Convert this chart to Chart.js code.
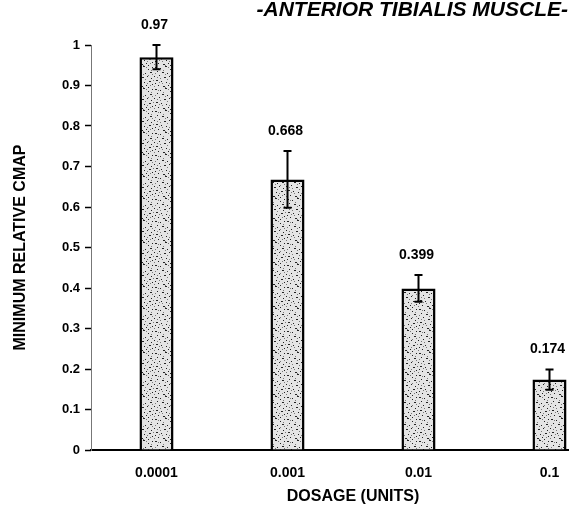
<!DOCTYPE html>
<html>
<head>
<meta charset="utf-8">
<script src="https://cdn.jsdelivr.net/npm/chart.js@4.4.1/dist/chart.umd.min.js"></script>
<style>
  html, body { margin: 0; padding: 0; background: #fff; overflow: hidden; }
  #wrap { width: 569px; height: 509px; overflow: hidden; }
  canvas { display: block; }
</style>
</head>
<body>
<div id="wrap"><canvas id="c" width="625" height="509"></canvas></div>
<script>
// Dose groups and mean minimum relative CMAP with standard error
const dosages = ['0.0001', '0.001', '0.01', '0.1'];
const cmapMeans = [0.97, 0.668, 0.399, 0.174];
const cmapErrors = [0.03, 0.07, 0.033, 0.025];
const yTicks = [0, 0.1, 0.2, 0.3, 0.4, 0.5, 0.6, 0.7, 0.8, 0.9, 1];

const chartTitle = '-ANTERIOR TIBIALIS MUSCLE-';
const yTitle = 'MINIMUM RELATIVE CMAP';
const xTitle = 'DOSAGE (UNITS)';

const FONT = '"Liberation Sans", Arial, Helvetica, sans-serif';

// Stippled fill for the bars: a fixed, irregular speckle tile
function stipple() {
  const t = document.createElement('canvas');
  t.width = 22; t.height = 22;
  const g = t.getContext('2d');
  g.fillStyle = '#e4e4e4';
  g.fillRect(0, 0, 22, 22);
  const dark = [[1,1,2],[6,2,1],[11,0,2],[16,3,1],[20,1,1],[3,5,1],[8,6,2],[13,7,1],[18,6,2],
                [0,10,1],[5,9,1],[10,11,2],[15,10,1],[19,12,1],[2,14,2],[7,15,1],[12,16,1],
                [17,15,2],[4,19,1],[9,20,2],[14,19,1],[20,18,1],[1,17,1],[16,21,1]];
  g.fillStyle = '#222';
  dark.forEach(([x, y, w]) => g.fillRect(x, y, w, 1));
  const mid = [[4,2],[9,4],[14,1],[19,4],[1,7],[11,8],[16,9],[6,12],[13,13],[21,14],
               [3,11],[8,17],[18,19],[11,21],[5,16],[15,17],[0,20],[20,8]];
  g.fillStyle = '#7a7a7a';
  mid.forEach(([x, y]) => g.fillRect(x, y, 1, 1));
  return g.createPattern(t, 'repeat');
}

// Error bars and value labels above each bar, plus the heading
const decorations = {
  id: 'decorations',
  afterDatasetsDraw(chart) {
    const ctx = chart.ctx;
    const y = chart.scales.y;
    const meta = chart.getDatasetMeta(0);
    ctx.save();
    meta.data.forEach((bar, i) => {
      const x = bar.x;
      const hi = y.getPixelForValue(cmapMeans[i] + cmapErrors[i]);
      const lo = y.getPixelForValue(cmapMeans[i] - cmapErrors[i]);
      ctx.strokeStyle = '#000';
      ctx.lineWidth = 2;
      ctx.beginPath();
      ctx.moveTo(x, hi); ctx.lineTo(x, lo);
      ctx.moveTo(x - 4, hi); ctx.lineTo(x + 4, hi);
      ctx.moveTo(x - 4, lo); ctx.lineTo(x + 4, lo);
      ctx.stroke();
      ctx.fillStyle = '#000';
      ctx.font = 'bold 14px ' + FONT;
      ctx.textAlign = 'center';
      ctx.textBaseline = 'middle';
      ctx.fillText(String(cmapMeans[i]), x - 2, hi - 20);
    });
    ctx.restore();
  },
  afterDraw(chart) {
    const ctx = chart.ctx;
    ctx.save();
    ctx.fillStyle = '#000';
    ctx.font = 'italic bold 21px ' + FONT;
    ctx.textAlign = 'right';
    ctx.textBaseline = 'middle';
    ctx.fillText(chartTitle, 568, 10);
    ctx.restore();
  }
};

new Chart(document.getElementById('c'), {
  type: 'bar',
  data: {
    labels: dosages,
    datasets: [{
      data: cmapMeans,
      backgroundColor: stipple(),
      borderColor: '#000',
      borderWidth: 2.5,
      borderSkipped: 'bottom',
      barPercentage: 0.26,
      categoryPercentage: 1
    }]
  },
  options: {
    responsive: false,
    animation: false,
    layout: { padding: { top: 45, right: 10, bottom: 0, left: 0 } },
    plugins: { legend: { display: false }, tooltip: { enabled: false } },
    scales: {
      x: {
        offset: true,
        grid: { display: false, drawTicks: false },
        border: { display: true, color: '#000', width: 2 },
        ticks: { color: '#000', padding: 15, font: { family: FONT, size: 14, weight: 'bold' } },
        title: {
          display: true, text: xTitle, color: '#000',
          padding: { top: 0, bottom: 3 },
          font: { family: FONT, size: 16, weight: 'bold' }
        },
        afterFit(s) { s.height = 59; }
      },
      y: {
        min: 0, max: 1,
        afterBuildTicks(s) { s.ticks = yTicks.map(v => ({ value: v })); },
        grid: { drawOnChartArea: false, drawTicks: true, tickLength: 6, tickColor: '#000', tickWidth: 1.5 },
        border: { display: true, color: '#777', width: 1, dash: [1, 3] },
        ticks: {
          color: '#000', padding: 5,
          font: { family: FONT, size: 13, weight: 'bold' },
          callback: v => String(v)
        },
        title: {
          display: true, text: yTitle, color: '#000',
          padding: { top: 11, bottom: 0 },
          font: { family: FONT, size: 16, weight: 'bold' }
        },
        afterFit(s) { s.width = 91; }
      }
    }
  },
  plugins: [decorations]
});
</script>
</body>
</html>
